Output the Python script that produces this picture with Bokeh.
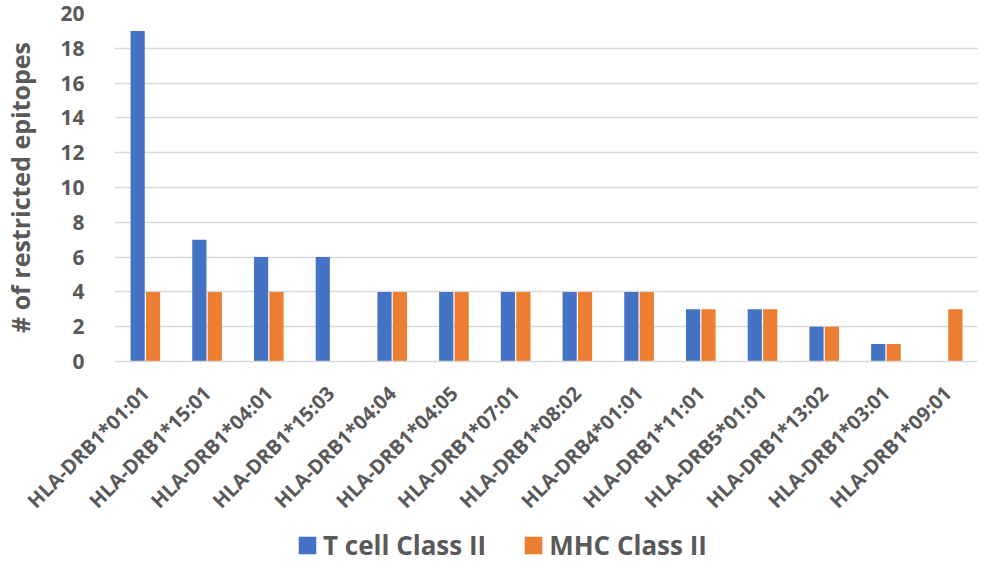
import math
from bokeh.plotting import figure
from bokeh.layouts import column
from bokeh.models import ColumnDataSource, FixedTicker, Legend, LegendItem
from bokeh.transform import dodge
from bokeh.embed import file_html
from bokeh.resources import INLINE

categories = ["HLA-DRB1*01:01", "HLA-DRB1*15:01", "HLA-DRB1*04:01", "HLA-DRB1*15:03",
              "HLA-DRB1*04:04", "HLA-DRB1*04:05", "HLA-DRB1*07:01", "HLA-DRB1*08:02",
              "HLA-DRB4*01:01", "HLA-DRB1*11:01", "HLA-DRB5*01:01", "HLA-DRB1*13:02",
              "HLA-DRB1*03:01", "HLA-DRB1*09:01"]
tcell = [19, 7, 6, 6, 4, 4, 4, 4, 4, 3, 3, 2, 1, 0]
mhc = [4, 4, 4, 0, 4, 4, 4, 4, 4, 3, 3, 2, 1, 3]
y_ticks = [0, 2, 4, 6, 8, 10, 12, 14, 16, 18, 20]
series_names = ["T cell Class II", "MHC Class II"]
series_colors = ["#4472C4", "#ED7D31"]

src = ColumnDataSource(dict(cat=categories, tcell=tcell, mhc=mhc))

FONT = "Open Sans"
GREY = "#595959"

p = figure(x_range=categories, y_range=(0, 20), width=978, height=528,
           output_backend="svg", toolbar_location=None,
           min_border_left=114, min_border_right=0, min_border_top=13, min_border_bottom=167)

p.vbar(x=dodge("cat", -0.125, range=p.x_range), top="tcell", width=0.23,
       source=src, color=series_colors[0], line_color=None)
p.vbar(x=dodge("cat", 0.125, range=p.x_range), top="mhc", width=0.23,
       source=src, color=series_colors[1], line_color=None)

p.outline_line_color = None
p.xgrid.grid_line_color = None
p.ygrid.grid_line_color = "#d9d9d9"
p.ygrid.grid_line_width = 1.5
p.yaxis.ticker = FixedTicker(ticks=y_ticks)
p.yaxis.axis_line_color = None
p.yaxis.major_tick_line_color = None
p.yaxis.minor_tick_line_color = None
p.yaxis.major_label_text_font = FONT
p.yaxis.major_label_text_font_style = "bold"
p.yaxis.major_label_text_font_size = "21px"
p.yaxis.major_label_text_color = GREY
p.yaxis.major_label_standoff = 24
p.yaxis.axis_label = "# of restricted epitopes"
p.yaxis.axis_label_text_font = FONT
p.yaxis.axis_label_text_font_style = "bold"
p.yaxis.axis_label_text_font_size = "25px"
p.yaxis.axis_label_text_color = GREY
p.yaxis.axis_label_standoff = 20

p.xaxis.axis_line_color = "#d9d9d9"
p.xaxis.axis_line_width = 1.5
p.xaxis.major_tick_line_color = None
p.xaxis.minor_tick_line_color = None
p.xaxis.major_label_orientation = math.pi / 4
p.xaxis.major_label_standoff = 22
p.xaxis.major_label_text_font = FONT
p.xaxis.major_label_text_font_style = "bold"
p.xaxis.major_label_text_font_size = "20px"
p.xaxis.major_label_text_color = GREY

# legend strip below the chart: same series, drawn outside its visible y-range
lf = figure(width=978, height=36, x_range=p.x_range, y_range=(100, 101),
            x_axis_type=None, y_axis_type=None,
            output_backend="svg", toolbar_location=None,
            min_border=0, min_border_left=0, min_border_right=0,
            min_border_top=0, min_border_bottom=0)
lf.grid.grid_line_color = None
lf.outline_line_color = None
items = []
for name, col, field in zip(series_names, series_colors, ["tcell", "mhc"]):
    r = lf.vbar(x="cat", top=field, width=0.23, source=src, color=col, line_color=None)
    items.append(LegendItem(label=name, renderers=[r]))
legend = Legend(items=items, orientation="horizontal", location=(182, 1),
                label_text_font=FONT, label_text_font_style="bold",
                label_text_font_size="26px", label_text_color=GREY,
                label_text_line_height=0.85,
                label_standoff=5, label_height=20,
                border_line_color=None, background_fill_alpha=0,
                glyph_width=22, glyph_height=22,
                spacing=36, margin=0, padding=0)
lf.add_layout(legend, "center")

layout = column(p, lf, spacing=0)
open("out.html", "w").write(file_html(layout, INLINE))
